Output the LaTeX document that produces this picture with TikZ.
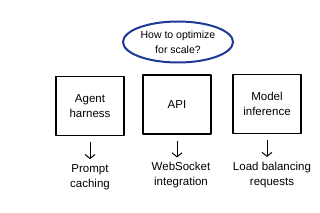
\documentclass[tikz,border=0pt]{standalone}
\usepackage{fontspec}
\setmainfont{Liberation Sans}
\usepackage{xcolor}
\usetikzlibrary{shapes.geometric,arrows.meta,positioning}
\definecolor{inkblue}{RGB}{30,58,150}

\begin{document}
\begin{tikzpicture}[x=1pt,y=-1pt,
  every node/.style={font=\fontsize{10.5}{14.5}\selectfont},
  question/.style={draw=inkblue, ellipse, line width=2pt, minimum width=110pt, minimum height=41pt, inner sep=0pt, align=center},
  box/.style={draw, rectangle, line width=1.3pt, line join=round, minimum width=68pt, minimum height=59pt, align=center, font=\fontsize{11.5}{15}\selectfont},
  fix/.style={align=center, inner sep=0pt, font=\fontsize{11.5}{15}\selectfont},
  arr/.style={-{Straight Barb[length=4pt,width=10pt]}, line width=1pt, shorten <=6pt, shorten >=5pt}]
\useasboundingbox (0,0) rectangle (320,213);
% Question on top
\node[question] (q) at (178,42) {How to optimize\\for scale?};
% Parts of the stack and what helps each one
\foreach \i/\x/\y/\dx/\area/\help in {1/90/106/0/{Agent\\harness}/{Prompt\\caching},
                                      2/177/104.5/4/{API}/{WebSocket\\integration},
                                      3/267/104/5/{Model\\inference}/{Load balancing\\requests}} {
    \node[box] (b\i) at (\x, \y) {\area};
    \node[fix] (f\i) at (\x+\dx, \y+71) {\help};
    \draw[arr] (b\i.south) -- (b\i.south |- f\i.north);
}
\end{tikzpicture}
\end{document}
